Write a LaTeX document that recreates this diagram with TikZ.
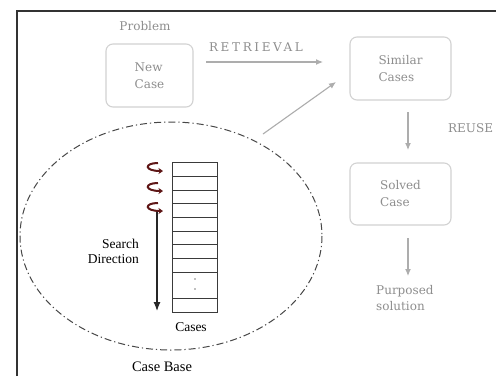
\documentclass[tikz,border=0pt]{standalone}
\usepackage{fontspec}
\setmainfont{Liberation Serif}
\newfontfamily\slabfont{DejaVu Serif}
\newfontfamily\slabspaced[LetterSpace=22]{DejaVu Serif}
\usetikzlibrary{arrows.meta}

\definecolor{framegray}{HTML}{333333}
\definecolor{boxgray}{HTML}{D2D2D2}
\definecolor{textgray}{HTML}{8E8E8E}
\definecolor{arrowgray}{HTML}{ADADAD}
\definecolor{curlred}{HTML}{5E1616}
\definecolor{rimgray}{HTML}{474747}
\definecolor{stackgray}{HTML}{3A3A3A}

\tikzset{
  casebox/.style={draw=boxgray, line width=1.1pt, rounded corners=7pt,
    minimum height=63pt, inner sep=0pt, text=textgray, align=left,
    font=\slabfont\fontsize{12}{17}\selectfont},
  graylabel/.style={text=textgray, inner sep=0pt, align=left,
    font=\slabfont\fontsize{12}{16}\selectfont},
  spacedlabel/.style={text=textgray, inner sep=0pt,
    font=\slabspaced\fontsize{12}{16}\selectfont},
  flow/.style={draw=arrowgray, line width=1.1pt,
    -{Latex[length=7pt,width=6pt]}},
  darklabel/.style={text=black, inner sep=0pt,
    font=\fontsize{13.5}{15}\selectfont},
  caserow/.style={draw=stackgray, line width=1.1pt, minimum width=45pt,
    inner sep=0pt, anchor=north west},
  curl/.style={draw=curlred, line width=2pt,
    -{Stealth[length=4.5pt,width=6pt]}},
  searcharrow/.style={draw=black!85, line width=1.2pt,
    -{Latex[length=9pt,width=7pt]}},
  rim/.style={draw=rimgray, line width=1pt,
    dash pattern=on 7pt off 3pt on 1.2pt off 3pt},
}

\begin{document}
\begin{tikzpicture}[x=1pt,y=-1pt]
  \useasboundingbox (0,0) rectangle (496,376);
  \fill[white] (0,0) rectangle (496,376);

  % outer frame (only top and left edges fall inside the page)
  \draw[framegray, line width=2pt] (17,376) -- (17,11) -- (496,11);

  % case base region
  \draw[rim] (171,236) ellipse [x radius=151, y radius=114];
  \node[darklabel, font=\fontsize{14.5}{16}\selectfont] (casebase) at (162,367) {Case Base};

  % problem side
  \node[graylabel] (problem) at (145,26) {Problem};
  \node[casebox, minimum width=87pt] (newcase) at (149.5,75.5) {New\\Case};

  % retrieval step
  \node[spacedlabel] (retrieval) at (256,47) {RETRIEVAL};
  \coordinate (retrA) at (206,62);
  \coordinate (retrB) at (323,62);
  \draw[flow] (retrA) -- (retrB);

  \node[casebox, minimum width=101pt] (similar) at (400.5,68.5) {Similar\\Cases};

  % arrow leaving the case base
  \coordinate (baseOut) at (263,134);
  \coordinate (baseIn) at (336,82);
  \draw[flow] (baseOut) -- (baseIn);

  % reuse step
  \coordinate (reuseA) at (408,112);
  \coordinate (reuseB) at (408,150);
  \draw[flow] (reuseA) -- (reuseB);
  \node[spacedlabel, anchor=west, font=\slabfont\fontsize{12}{16}\selectfont] (reuse) at (448,128) {REUSE};

  \node[casebox, minimum width=101pt, minimum height=62pt] (solved) at (400.5,194) {Solved\\Case};

  \coordinate (solA) at (408,238);
  \coordinate (solB) at (408,276);
  \draw[flow] (solA) -- (solB);
  \node[graylabel, anchor=north west] (purposed) at (376,285) {Purposed\\solution};

  % stack of stored cases
  \foreach \i in {0,...,7}{
    \node[caserow, minimum height=13.675pt] (row\i) at (172,{162.3+13.675*\i}) {};
  }
  \node[caserow, minimum height=26pt] (rowdots) at (172,271.7) {};
  \node[caserow, minimum height=14pt] (rowlast) at (172,297.7) {};
  \fill[black!50] (195,279) circle (0.8pt) (195,289) circle (0.8pt);
  \node[darklabel] (cases) at (191,327) {Cases};

  % search cursor hooks
  \foreach \y/\n in {163/a,183/b,203/c}{
    \coordinate (hook\n) at (158,\y);
    \coordinate (hookend\n) at (163,\y+8);
    \draw[curl] (hook\n) .. controls (144,\y) and (144,\y+8) .. (hookend\n);
  }

  % search direction
  \coordinate (searchTop) at (157,212);
  \coordinate (searchEnd) at (157,311);
  \draw[searcharrow] (searchTop) -- (searchEnd);
  \node[darklabel, anchor=east, align=right] (searchlbl) at (139,251.5) {Search\\Direction};
\end{tikzpicture}
\end{document}
